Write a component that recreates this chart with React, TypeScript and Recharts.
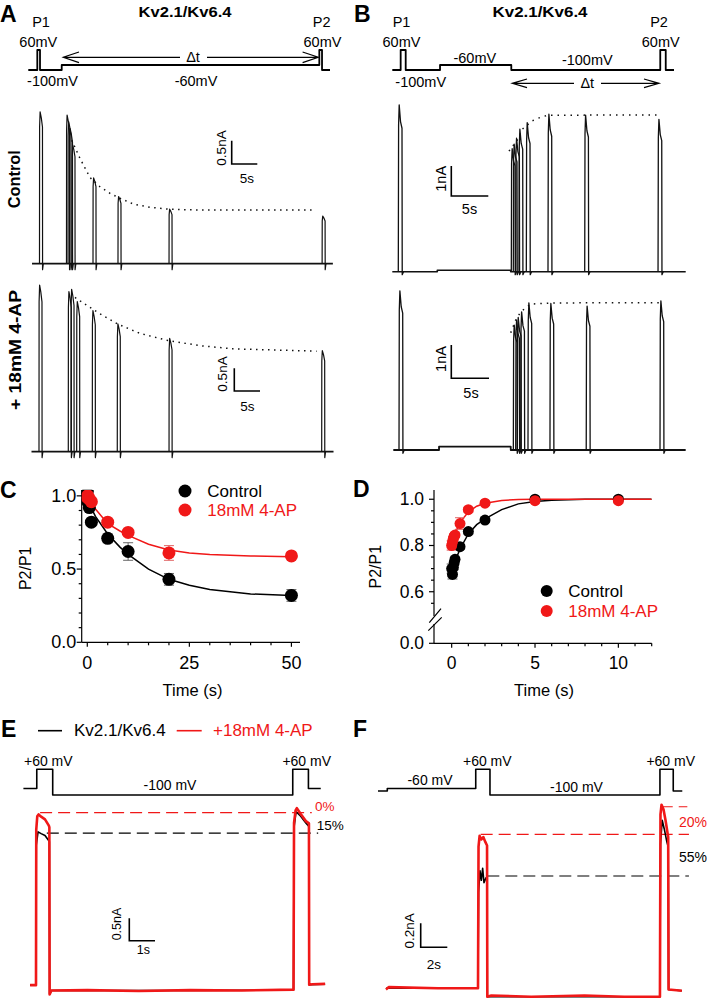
import React from "react";
import { LineChart, ComposedChart, Line, Scatter, ErrorBar, XAxis, YAxis, ReferenceLine } from "recharts";

const FONT = "'Liberation Sans', Arial, Helvetica, sans-serif";
const RED = "#f01818";
const INK = "#111";

// ---------- A: recovery at -60 mV (time s, current nA) ----------
const aProtoT = [-2.19, -0.43, -0.43, 0.1, 0.1, 4.34, 4.34, 54.65, 54.65, 55.18, 55.18, 56.74];
const aProtoV = [-100, -100, 60, 60, -100, -100, -60, -60, 60, 60, -100, -100];
const aBaseT = [-1.46, 57.3];
const aCtrlP1 = 3.26;
const aCtrlP2Times = [5.27, 5.57, 5.86, 6.35, 10.45, 15.33, 25.3, 55.2];
const aCtrlP2Peaks = [3.19, 3.05, 2.9, 2.55, 1.84, 1.44, 1.17, 1.02];
const aCtrlFitT = [6.29, 7.91, 9.86, 11.82, 13.77, 15.39, 18.32, 21.58, 25.29, 31.35, 53.8];
const aCtrlFitI = [2.65, 2.26, 1.85, 1.65, 1.51, 1.42, 1.28, 1.21, 1.17, 1.15, 1.15];
const aApP1 = 3.66;
const aApP2Times = [5.7, 6.23, 7.33, 10.37, 15.23, 25.3, 55.0];
const aApP2Peaks = [3.52, 3.57, 3.3, 3.1, 2.81, 2.49, 2.22];
const aApFitT = [7.0, 9.28, 11.87, 15.43, 19.65, 24.84, 31.3, 37.8, 54.0];
const aApFitI = [3.39, 3.22, 3.03, 2.8, 2.6, 2.45, 2.33, 2.26, 2.21];

// ---------- B: recovery at -100 mV ----------
const bProtoT = [-0.81, 0.32, 0.32, 1.0, 1.0, 5.64, 5.64, 15.27, 15.27, 35.4, 35.4, 36.14, 36.14, 37.26];
const bProtoV = [-100, -100, 60, 60, -100, -100, -60, -60, -100, -100, 60, 60, -100, -100];
const bCtrlBase = [[-0.81, 0], [5.27, 0], [5.27, 0.05], [15.19, 0.05], [15.19, 0], [38.84, 0]];
const bCtrlP1 = 5.56;
const bCtrlP2Times = [15.27, 15.54, 15.86, 16.31, 17.3, 20.23, 25.19, 35.1];
const bCtrlP2Peaks = [4.1, 4.25, 4.45, 4.75, 4.97, 5.25, 5.22, 5.08];
const bCtrlFitT = [14.96, 16.08, 16.76, 18.11, 19.24, 20.14, 25.54, 35.0];
const bCtrlFitI = [4.02, 4.39, 4.75, 5.03, 5.15, 5.21, 5.22, 5.22];
const bApBase = [[-0.77, 0], [5.41, 0], [5.41, 0.1], [15.1, 0.1], [15.1, 0], [38.74, 0]];
const bApP1 = 4.78;
const bApP2Times = [15.45, 15.77, 15.99, 16.45, 17.43, 20.4, 25.3, 35.27];
const bApP2Peaks = [3.75, 3.9, 3.98, 4.15, 4.42, 4.4, 4.32, 4.48];
const bApFitT = [15.1, 15.77, 16.45, 17.8, 20, 25, 35.3];
const bApFitI = [3.52, 3.9, 4.15, 4.38, 4.41, 4.42, 4.42];

// ---------- C: P2/P1 vs time, -60 mV ----------
const cTimes = [0, 0.1, 0.5, 1, 5, 10, 20, 50];
const cCtrl = [1.03, 0.96, 0.92, 0.82, 0.71, 0.62, 0.43, 0.32];
const cCtrlErr = [0.01, 0.01, 0.02, 0.02, 0.03, 0.06, 0.04, 0.04];
const cAp = [0.99, 1.0, 0.98, 0.96, 0.82, 0.75, 0.61, 0.59];
const cApErr = [0.01, 0.01, 0.01, 0.01, 0.02, 0.02, 0.05, 0.02];
const cFitT = [0, 2, 5, 8, 10, 15, 20, 25, 30, 40, 50];
const cCtrlFit = [0.97, 0.86, 0.74, 0.65, 0.6, 0.5, 0.43, 0.39, 0.36, 0.33, 0.32];
const cApFit = [0.99, 0.91, 0.81, 0.76, 0.73, 0.67, 0.63, 0.61, 0.6, 0.59, 0.585];
const cXTicks = [0, 5, 10, 15, 20, 25, 30, 35, 40, 45, 50];
const cXMajor = [0, 25, 50];
const cYTicks = [0, 0.1, 0.2, 0.3, 0.4, 0.5, 0.6, 0.7, 0.8, 0.9, 1.0];
const cYMajor = [0, 0.5, 1.0];

// ---------- D: P2/P1 vs time, -100 mV ----------
const dTimes = [0, 0.05, 0.1, 0.15, 0.2, 0.5, 1, 2, 5, 10];
const dCtrl = [0.7, 0.675, 0.705, 0.725, 0.74, 0.795, 0.86, 0.91, 1.0, 1.0];
const dCtrlErr = [0.02, 0.02, 0.01, 0.01, 0.01, 0.01, 0.01, 0.01, 0.01, 0.01];
const dAp = [0.8, 0.815, 0.83, 0.84, 0.845, 0.895, 0.955, 0.983, 0.994, 0.994];
const dApErr = [0.02, 0.01, 0.01, 0.01, 0.01, 0.025, 0.01, 0.01, 0.01, 0.01];
const dFitT = [0, 0.25, 0.5, 1, 1.5, 2, 3, 4, 5, 6, 8, 12];
const dCtrlFit = [0.69, 0.74, 0.785, 0.85, 0.89, 0.915, 0.955, 0.98, 0.99, 0.996, 1.0, 1.0];
const dApFit = [0.81, 0.86, 0.9, 0.945, 0.97, 0.983, 0.995, 0.999, 1.0, 1.0, 1.0, 1.0];
const dAxisZero = 0.377; // where "0.0" sits below the axis break
const dBreak = [0.46, 0.495];
const dXTicks = [0, 1, 2, 3, 4, 5, 6, 7, 8, 9, 10, 11, 12];
const dXMajor = [0, 5, 10];
const dYTicks = [dAxisZero, 0.55, 0.6, 0.65, 0.7, 0.75, 0.8, 0.85, 0.9, 0.95, 1.0];
const dYMajor = [dAxisZero, 0.6, 0.8, 1.0];

// ---------- E / F: single sweeps ----------
const eProtoT = [-0.49, 0.03, 0.03, 0.65, 0.65, 9.99, 9.99, 10.6, 10.6, 11.08];
const eProtoV = [-60, -60, 60, 60, -100, -100, 60, 60, -60, -60];
const eBlack = [[-0.23, 0.07], [0, 0.07], [0.01, 3.2], [0.08, 3.5], [0.2, 3.46], [0.35, 3.42], [0.5, 3.3], [0.52, 3.28], [0.53, -0.12], [0.6, -0.05], [5, -0.05], [10.02, -0.04], [10.04, 3.6], [10.12, 3.95], [10.3, 3.85], [10.5, 3.7], [10.62, 3.62], [10.63, 0.08], [11.25, 0.09]];
const eRed = [[-0.23, 0.07], [0, 0.07], [0.01, 3.55], [0.05, 3.85], [0.1, 3.89], [0.2, 3.84], [0.35, 3.78], [0.5, 3.64], [0.52, 3.6], [0.53, -0.14], [0.6, -0.05], [2, -0.04], [4, -0.06], [6, -0.04], [8, -0.05], [10.02, -0.03], [10.04, 3.7], [10.1, 3.98], [10.15, 4.03], [10.3, 3.9], [10.5, 3.74], [10.62, 3.69], [10.63, 0.08], [10.75, 0.09], [11.25, 0.1]];
const eDashLevels = [3.93, 3.47];
const eDashFrom = [0.16, 0.42];
const eDashTo = [10.73, 10.98];
const fProtoT = [-7.52, -6.82, -6.82, -0.17, -0.17, 0.9, 0.9, 13.68, 13.68, 14.68, 14.68, 15.36];
const fProtoV = [-75, -75, -60, -60, 60, 60, -100, -100, 60, 60, -75, -75];
const fBlack = [[-6.92, 0], [0, 0], [0.04, 0.8], [0.15, 0.98], [0.25, 0.9], [0.35, 1.0], [0.45, 0.88], [0.6, 0.92], [0.68, 0.9], [0.7, -0.07], [13.68, -0.07], [13.72, 1.2], [13.85, 1.4], [14.0, 1.33], [14.2, 1.22], [14.3, 1.18], [14.33, -0.01], [15.33, -0.02]];
const fRed = [[-6.92, -0.01], [-6.7, 0.01], [-3, 0], [0, 0], [0.04, 1.18], [0.12, 1.27], [0.25, 1.24], [0.4, 1.26], [0.55, 1.22], [0.68, 1.19], [0.7, -0.07], [1, -0.06], [4, -0.07], [8, -0.06], [11, -0.07], [13.68, -0.07], [13.72, 1.45], [13.8, 1.53], [13.95, 1.49], [14.1, 1.4], [14.3, 1.26], [14.33, -0.01], [15.33, -0.02]];
const fDashLevels = [1.283, 1.513, 0.936];
const fDashFrom = [0.2, 13.74, 0.7];
const fDashTo = [15.86, 15.74, 15.86];

type Pt = { t: number; v: number };
type Box = { x: number; y: number; w: number; h: number };
type Cal = { px0: number; v0: number; ppu: number };
type Series = { data: Pt[]; color: string; width: number; dash?: string };
type Ref = { level: number; from: number; to: number; color: string };

const zip = (ts: number[], vs: number[]): Pt[] => ts.map((t, i) => ({ t, v: vs[i] }));
const pairs = (a: number[][]): Pt[] => a.map(([t, v]) => ({ t, v }));
const withErr = (ts: number[], vs: number[], es: number[]) => ts.map((t, i) => ({ t, v: vs[i], e: es[i] }));

// outline of one test pulse: fast rise, slight sag, fall with a small tail
const spikeA = (t0: number, p: number): Pt[] =>
  pairs([[t0, 0], [t0 + 0.02, 0.9 * p], [t0 + 0.12, p], [t0 + 0.35, 0.96 * p], [t0 + 0.58, 0.9 * p], [t0 + 0.6, -0.13], [t0 + 0.75, 0]]);
const spikeB = (t0: number, p: number): Pt[] =>
  pairs([[t0, 0], [t0 + 0.04, 0.88 * p], [t0 + 0.12, p], [t0 + 0.3, 0.9 * p], [t0 + 0.5, 0.86 * p], [t0 + 0.53, -0.1], [t0 + 0.7, 0]]);

const xDom = (b: Box, c: Cal): [number, number] => [c.v0 + (b.x - c.px0) / c.ppu, c.v0 + (b.x + b.w - c.px0) / c.ppu];
const yDom = (b: Box, c: Cal): [number, number] => [c.v0 - (b.y + b.h - c.px0) / c.ppu, c.v0 - (b.y - c.px0) / c.ppu];

function Panel({ box, xc, yc, series, refs }: { box: Box; xc: Cal; yc: Cal; series: Series[]; refs?: Ref[] }) {
  return (
    <div style={{ position: "absolute", left: box.x, top: box.y, width: box.w, height: box.h }}>
      <LineChart width={box.w} height={box.h} margin={{ top: 0, right: 0, bottom: 0, left: 0 }}>
        <XAxis type="number" dataKey="t" domain={xDom(box, xc)} hide allowDataOverflow />
        <YAxis type="number" dataKey="v" domain={yDom(box, yc)} hide allowDataOverflow />
        {(refs || []).map((r, i) => (
          <ReferenceLine key={"r" + i} segment={[{ x: r.from, y: r.level }, { x: r.to, y: r.level }]} stroke={r.color} strokeWidth={1.2} strokeDasharray="12 6" />
        ))}
        {series.map((s, i) => (
          <Line key={i} data={s.data} dataKey="v" type="linear" stroke={s.color} strokeWidth={s.width} strokeDasharray={s.dash} dot={false} activeDot={false} isAnimationActive={false} strokeLinejoin="round" />
        ))}
      </LineChart>
    </div>
  );
}

const near = (a: number[], v: number) => a.some((m) => Math.abs(m - v) < 1e-6);

const xTick = (majors: number[], dy: number, size: number) => (p: any) => {
  const major = near(majors, p.payload.value);
  return (
    <g>
      <line x1={p.x} x2={p.x} y1={p.y} y2={p.y + (major ? 4.5 : 3)} stroke="#000" strokeWidth={1.2} />
      {major && (
        <text x={p.x} y={p.y + dy} textAnchor="middle" dominantBaseline="central" fontSize={size} fontFamily={FONT} fill="#000">
          {p.payload.value}
        </text>
      )}
    </g>
  );
};

const yTick = (majors: number[], gap: number, size: number, label: (v: number) => string) => (p: any) => {
  const major = near(majors, p.payload.value);
  return (
    <g>
      <line x1={p.x - (major ? 5 : 3)} x2={p.x} y1={p.y} y2={p.y} stroke="#000" strokeWidth={1.2} />
      {major && (
        <text x={p.x - gap} y={p.y} textAnchor="end" dominantBaseline="central" fontSize={size} fontFamily={FONT} fill="#000">
          {label(p.payload.value)}
        </text>
      )}
    </g>
  );
};

const dot = (r: number, fill: string) => (p: any) => <circle cx={p.cx} cy={p.cy} r={r} fill={fill} />;

function PanelC() {
  return (
    <div style={{ position: "absolute", left: 0, top: 480 }}>
      <ComposedChart width={320} height={200} margin={{ top: 10, right: 20, bottom: 0, left: 0 }}>
        <XAxis type="number" dataKey="t" domain={[-1.37, 52.1]} ticks={cXTicks} interval={0} tickSize={0} tickMargin={0} tickLine={false}
          height={37.7} axisLine={{ stroke: "#000", strokeWidth: 1.2 }} tick={xTick(cXMajor, 21, 18)} allowDataOverflow />
        <YAxis type="number" dataKey="v" domain={[0, 1.04]} ticks={cYTicks} interval={0} tickSize={0} tickMargin={0} tickLine={false}
          width={81.7} axisLine={{ stroke: "#000", strokeWidth: 1.2 }} tick={yTick(cYMajor, 5.5, 18, (v) => v.toFixed(1))} allowDataOverflow />
        <Line data={zip(cFitT, cCtrlFit)} dataKey="v" stroke="#000" strokeWidth={1.5} dot={false} activeDot={false} isAnimationActive={false} />
        <Line data={zip(cFitT, cApFit)} dataKey="v" stroke={RED} strokeWidth={1.5} dot={false} activeDot={false} isAnimationActive={false} />
        <Scatter data={withErr(cTimes, cCtrl, cCtrlErr)} fill="#000" shape={dot(6.5, "#000")} isAnimationActive={false}>
          <ErrorBar dataKey="e" direction="y" width={5} stroke="#666" strokeWidth={1} />
        </Scatter>
        <Scatter data={withErr(cTimes, cAp, cApErr)} fill={RED} shape={dot(6.5, RED)} isAnimationActive={false}>
          <ErrorBar dataKey="e" direction="y" width={5} stroke="#e06060" strokeWidth={1} />
        </Scatter>
      </ComposedChart>
    </div>
  );
}

function PanelD() {
  const xMin = -1.06;
  return (
    <div style={{ position: "absolute", left: 354, top: 480 }}>
      <ComposedChart width={310} height={200} margin={{ top: 10, right: 12.3, bottom: 0, left: 0 }}>
        <XAxis type="number" dataKey="t" domain={[xMin, 12]} ticks={dXTicks} interval={0} tickSize={0} tickMargin={0} tickLine={false}
          height={36.7} axisLine={{ stroke: "#000", strokeWidth: 1.2 }} tick={xTick(dXMajor, 19.5, 17.5)} allowDataOverflow />
        <YAxis type="number" dataKey="v" domain={[dAxisZero, 1.04]} ticks={dYTicks} interval={0} tickSize={0} tickMargin={0} tickLine={false}
          width={80} axisLine={false} tick={yTick(dYMajor, 10, 17.5, (v) => (near([dAxisZero], v) ? "0.0" : v.toFixed(1)))} allowDataOverflow />
        <ReferenceLine segment={[{ x: xMin, y: 1.04 }, { x: xMin, y: dBreak[1] }]} stroke="#000" strokeWidth={1.2} ifOverflow="visible" />
        <ReferenceLine segment={[{ x: xMin, y: dBreak[0] }, { x: xMin, y: dAxisZero }]} stroke="#000" strokeWidth={1.2} ifOverflow="visible" />
        <Line data={zip(dFitT, dCtrlFit)} dataKey="v" stroke="#000" strokeWidth={1.5} dot={false} activeDot={false} isAnimationActive={false} />
        <Line data={zip(dFitT, dApFit)} dataKey="v" stroke={RED} strokeWidth={1.5} dot={false} activeDot={false} isAnimationActive={false} />
        <Scatter data={withErr(dTimes, dCtrl, dCtrlErr)} fill="#000" shape={dot(5.5, "#000")} isAnimationActive={false}>
          <ErrorBar dataKey="e" direction="y" width={5} stroke="#666" strokeWidth={1} />
        </Scatter>
        <Scatter data={withErr(dTimes, dAp, dApErr)} fill={RED} shape={dot(5.5, RED)} isAnimationActive={false}>
          <ErrorBar dataKey="e" direction="y" width={5} stroke="#e06060" strokeWidth={1} />
        </Scatter>
      </ComposedChart>
    </div>
  );
}

type Label = { s: string; x: number; y: number; size: number; a?: "start" | "middle" | "end"; b?: boolean; c?: string; r?: boolean; len?: number };
const labels: Label[] = [
  { s: "A", x: 0, y: 14, size: 23, a: "start", b: true },
  { s: "Kv2.1/Kv6.4", x: 185, y: 11.5, size: 15, b: true, len: 93 },
  { s: "P1", x: 41, y: 21.7, size: 14.5 },
  { s: "60mV", x: 38.3, y: 41.5, size: 14.5 },
  { s: "-100mV", x: 52.5, y: 81, size: 14.5 },
  { s: "-60mV", x: 196, y: 81, size: 14.5 },
  { s: "\u0394t", x: 193, y: 57.3, size: 14.5 },
  { s: "P2", x: 321.7, y: 21.7, size: 14.5 },
  { s: "60mV", x: 322.5, y: 41.5, size: 14.5 },
  { s: "B", x: 354, y: 14, size: 23, a: "start", b: true },
  { s: "Kv2.1/Kv6.4", x: 540, y: 11.5, size: 15, b: true, len: 95 },
  { s: "P1", x: 401.5, y: 21.7, size: 14.5 },
  { s: "60mV", x: 401.5, y: 41.5, size: 14.5 },
  { s: "-60mV", x: 474.8, y: 57.5, size: 14.5 },
  { s: "-100mV", x: 587.3, y: 60, size: 14.5 },
  { s: "-100mV", x: 420.7, y: 81.7, size: 14.5 },
  { s: "\u0394t", x: 587.3, y: 83.3, size: 14.5 },
  { s: "P2", x: 659, y: 21.7, size: 14.5 },
  { s: "60mV", x: 660.7, y: 41.5, size: 14.5 },
  { s: "Control", x: 14.2, y: 179.2, size: 17, b: true, r: true, len: 58 },
  { s: "+ 18mM 4-AP", x: 15.8, y: 350, size: 17, b: true, r: true, len: 120 },
  { s: "0.5nA", x: 221, y: 148, size: 13.5, r: true },
  { s: "5s", x: 247, y: 178.5, size: 13.5 },
  { s: "0.5nA", x: 222.5, y: 374, size: 13.5, r: true },
  { s: "5s", x: 247.5, y: 406.7, size: 13.5 },
  { s: "1nA", x: 441, y: 178.8, size: 14.5, r: true },
  { s: "5s", x: 469.5, y: 209.3, size: 14.5 },
  { s: "1nA", x: 441, y: 359, size: 14.5, r: true },
  { s: "5s", x: 471, y: 393.3, size: 14.5 },
  { s: "C", x: 0, y: 490, size: 23, a: "start", b: true },
  { s: "P2/P1", x: 25, y: 568.3, size: 16, r: true },
  { s: "Time (s)", x: 192.5, y: 690, size: 16.5 },
  { s: "Control", x: 207.3, y: 491, size: 17, a: "start" },
  { s: "18mM 4-AP", x: 207.3, y: 510, size: 17, a: "start", c: RED },
  { s: "D", x: 353, y: 489, size: 23, a: "start", b: true },
  { s: "P2/P1", x: 375.3, y: 566.7, size: 16, r: true },
  { s: "Time (s)", x: 544, y: 690, size: 16.5 },
  { s: "Control", x: 568.3, y: 591, size: 17, a: "start" },
  { s: "18mM 4-AP", x: 568.3, y: 611, size: 17, a: "start", c: RED },
  { s: "E", x: 1, y: 728.5, size: 23, a: "start", b: true },
  { s: "Kv2.1/Kv6.4", x: 74, y: 730, size: 17, a: "start" },
  { s: "+18mM 4-AP", x: 213, y: 730, size: 17, a: "start", c: RED },
  { s: "+60 mV", x: 48.3, y: 760.7, size: 14 },
  { s: "+60 mV", x: 306.7, y: 760.7, size: 14 },
  { s: "-100 mV", x: 170, y: 785, size: 14 },
  { s: "0%", x: 315, y: 806.7, size: 13.5, a: "start", c: RED },
  { s: "15%", x: 316.7, y: 825, size: 13.5, a: "start" },
  { s: "0.5nA", x: 116.7, y: 924, size: 12.5, r: true },
  { s: "1s", x: 143.3, y: 950, size: 12.5 },
  { s: "F", x: 353, y: 728.5, size: 23, a: "start", b: true },
  { s: "-60 mV", x: 430, y: 780, size: 14 },
  { s: "+60 mV", x: 487.3, y: 760.7, size: 14 },
  { s: "+60 mV", x: 670.7, y: 760.7, size: 14 },
  { s: "-100 mV", x: 576.5, y: 786.7, size: 14 },
  { s: "20%", x: 679, y: 821.7, size: 14, a: "start", c: RED },
  { s: "55%", x: 679, y: 856.7, size: 14, a: "start" },
  { s: "0.2nA", x: 409, y: 930.8, size: 13.5, r: true },
  { s: "2s", x: 434, y: 964.3, size: 13.5 },
];

// arrows, scale bars, axis-break marks
const arrows = [
  "M63.3 57.3H180 M207 57.3H318.3 M79 52L63.3 57.3L79 62.6 M302.6 52L318.3 57.3L302.6 62.6",
  "M512.3 83.3H574 M601 83.3H659 M527 79L512.3 83.3L527 87.6 M644 79L659 83.3L644 87.6",
  "M429.3 622.7L441 608.7 M428.3 630.7L441.7 617.3",
];
const scaleBars = [
  "M231.7 140.7V164H257.3",
  "M234.3 368.3V391H260",
  "M451.3 166V196H488.3",
  "M451.3 345V378.3H489",
  "M129.3 918.3V940.7H155",
  "M420.7 923.3V947.3H447.3",
];

function Overlay() {
  return (
    <svg width={707} height={1008} style={{ position: "absolute", left: 0, top: 0, pointerEvents: "none" }}>
      {arrows.map((d, i) => <path key={"a" + i} d={d} fill="none" stroke="#000" strokeWidth={1.2} />)}
      {scaleBars.map((d, i) => <path key={"s" + i} d={d} fill="none" stroke="#000" strokeWidth={1.6} />)}
      <circle cx={185} cy={491} r={6.5} fill="#000" />
      <circle cx={185} cy={510} r={6.5} fill={RED} />
      <circle cx={546.7} cy={591} r={6} fill="#000" />
      <circle cx={546.7} cy={611} r={6} fill={RED} />
      <line x1={38} x2={62} y1={730.7} y2={730.7} stroke="#000" strokeWidth={1.6} />
      <line x1={176.7} x2={201.7} y1={730.7} y2={730.7} stroke={RED} strokeWidth={1.6} />
      {labels.map((l, i) => (
        <text key={"t" + i} x={l.r ? 0 : l.x} y={l.r ? 0 : l.y}
          transform={l.r ? `translate(${l.x},${l.y}) rotate(-90)` : undefined}
          textAnchor={l.a || "middle"} dominantBaseline="central" fontFamily={FONT} fontSize={l.size}
          fontWeight={l.b ? "bold" : "normal"} fill={l.c || "#000"}
          textLength={l.len} lengthAdjust={l.len ? "spacingAndGlyphs" : undefined}>
          {l.s}
        </text>
      ))}
    </svg>
  );
}

export default function App() {
  const aCtrlCal = { px0: 39.5, v0: 0, ppu: 5.12 };
  const aApCal = { px0: 39, v0: 0, ppu: 5.14 };
  const bCtrlCal = { px0: 398.3, v0: 0, ppu: 7.4 };
  const bApCal = { px0: 399, v0: 0, ppu: 7.4 };
  const eCal = { px0: 36, v0: 0, ppu: 25.7 };
  const fCal = { px0: 478, v0: 0, ppu: 13.3 };
  const protoTop = { px0: 50, v0: 60, ppu: 0.125 };
  const protoBottom = { px0: 769.3, v0: 60, ppu: 0.1606 };

  const aCtrl: Series[] = [
    { data: zip(aBaseT, [0, 0]), color: INK, width: 1.8 },
    { data: spikeA(0, aCtrlP1), color: INK, width: 1.2 },
    ...aCtrlP2Times.map((t, i) => ({ data: spikeA(t, aCtrlP2Peaks[i]), color: INK, width: 1.2 })),
    { data: zip(aCtrlFitT, aCtrlFitI), color: INK, width: 1.5, dash: "1.5 4.5" },
  ];
  const aAp: Series[] = [
    { data: zip(aBaseT, [0, 0]), color: INK, width: 1.8 },
    { data: spikeA(0, aApP1), color: INK, width: 1.2 },
    ...aApP2Times.map((t, i) => ({ data: spikeA(t, aApP2Peaks[i]), color: INK, width: 1.2 })),
    { data: zip(aApFitT, aApFitI), color: INK, width: 1.5, dash: "1.5 4.5" },
  ];
  const bCtrl: Series[] = [
    { data: pairs(bCtrlBase), color: INK, width: 1.6 },
    { data: spikeB(0, bCtrlP1), color: INK, width: 1.3 },
    ...bCtrlP2Times.map((t, i) => ({ data: spikeB(t, bCtrlP2Peaks[i]), color: INK, width: 1.3 })),
    { data: zip(bCtrlFitT, bCtrlFitI), color: INK, width: 1.5, dash: "1.5 5" },
  ];
  const bAp: Series[] = [
    { data: pairs(bApBase), color: INK, width: 1.8 },
    { data: spikeB(0, bApP1), color: INK, width: 1.3 },
    ...bApP2Times.map((t, i) => ({ data: spikeB(t, bApP2Peaks[i]), color: INK, width: 1.3 })),
    { data: zip(bApFitT, bApFitI), color: INK, width: 1.5, dash: "1.5 5" },
  ];
  const eRefs: Ref[] = eDashLevels.map((l, i) => ({ level: l, from: eDashFrom[i], to: eDashTo[i], color: i === 0 ? RED : "#000" }));
  const fRefs: Ref[] = fDashLevels.map((l, i) => ({ level: l, from: fDashFrom[i], to: fDashTo[i], color: i < 2 ? RED : "#000" }));

  return (
    <div style={{ position: "absolute", left: 0, top: 0, width: 707, height: 1008, background: "#fff", fontFamily: FONT, overflow: "hidden" }}>
      <Panel box={{ x: 0, y: 40, w: 354, h: 40 }} xc={aCtrlCal} yc={protoTop} series={[{ data: zip(aProtoT, aProtoV), color: "#000", width: 1.8 }]} />
      <Panel box={{ x: 354, y: 40, w: 353, h: 40 }} xc={bCtrlCal} yc={protoTop} series={[{ data: zip(bProtoT, bProtoV), color: "#000", width: 1.8 }]} />
      <Panel box={{ x: 0, y: 95, w: 354, h: 180 }} xc={aCtrlCal} yc={{ px0: 263.7, v0: 0, ppu: 46.6 }} series={aCtrl} />
      <Panel box={{ x: 0, y: 280, w: 354, h: 185 }} xc={aApCal} yc={{ px0: 451.7, v0: 0, ppu: 45.5 }} series={aAp} />
      <Panel box={{ x: 354, y: 95, w: 353, h: 185 }} xc={bCtrlCal} yc={{ px0: 271.7, v0: 0, ppu: 30 }} series={bCtrl} />
      <Panel box={{ x: 354, y: 280, w: 353, h: 185 }} xc={bApCal} yc={{ px0: 450, v0: 0, ppu: 33.3 }} series={bAp} />
      <PanelC />
      <PanelD />
      <Panel box={{ x: 0, y: 750, w: 354, h: 55 }} xc={eCal} yc={protoBottom} series={[{ data: zip(eProtoT, eProtoV), color: "#000", width: 1.6 }]} />
      <Panel box={{ x: 354, y: 750, w: 353, h: 55 }} xc={fCal} yc={protoBottom} series={[{ data: zip(fProtoT, fProtoV), color: "#000", width: 1.6 }]} />
      <Panel box={{ x: 0, y: 795, w: 354, h: 213 }} xc={eCal} yc={{ px0: 988.3, v0: 0, ppu: 44.7 }} refs={eRefs}
        series={[{ data: pairs(eBlack), color: "#000", width: 1.6 }, { data: pairs(eRed), color: RED, width: 2.6 }]} />
      <Panel box={{ x: 354, y: 795, w: 353, h: 213 }} xc={fCal} yc={{ px0: 988.3, v0: 0, ppu: 120 }} refs={fRefs}
        series={[{ data: pairs(fBlack), color: "#000", width: 1.6 }, { data: pairs(fRed), color: RED, width: 2.6 }]} />
      <Overlay />
    </div>
  );
}
